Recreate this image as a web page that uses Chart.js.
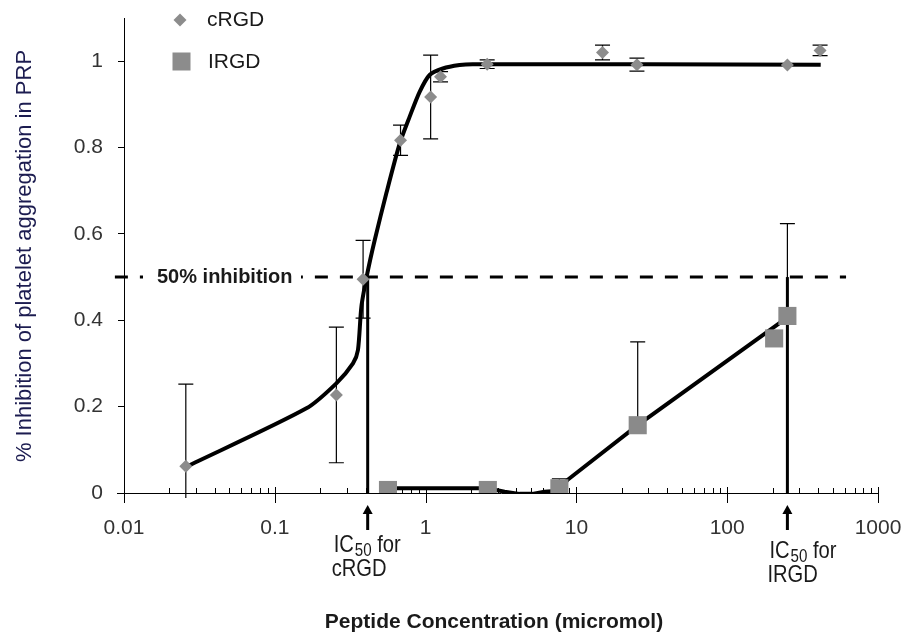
<!DOCTYPE html>
<html>
<head>
<meta charset="utf-8">
<script src="https://cdn.jsdelivr.net/npm/chart.js@4.4.0/dist/chart.umd.min.js"></script>
<style>
  html, body { margin: 0; padding: 0; background: #fff; }
</style>
</head>
<body>
<canvas id="myChart" width="912" height="639"></canvas>
<script>
const crgdX   = [0.0257, 0.256, 0.385, 0.682, 1.08, 1.256, 2.56, 14.9, 25.2, 250.6, 413];
const crgdY   = [0.062, 0.227, 0.495, 0.817, 0.917, 0.964, 0.993, 1.020, 0.992, 0.991, 1.025];
const crgdErr = [0.19, 0.157, 0.09, 0.035, 0.097, 0.012, 0.01, 0.017, 0.015, 0, 0.012];

const irgdX   = [0.563, 2.586, 7.71, 25.5, 204.8, 250.7];
const irgdY   = [0.007, 0.007, 0.011, 0.157, 0.358, 0.410];
const irgdErr = [0, 0, 0.022, 0.193, 0, 0.214];

// fitted curves
const crgdFitX = [0.026, 0.162, 0.256, 0.330, 0.356, 0.375, 0.411, 0.460, 0.549, 0.673, 0.783, 0.913, 1.063, 1.302, 1.68, 2.05, 417];
const crgdFitY = [0.061, 0.196, 0.254, 0.300, 0.331, 0.431, 0.509, 0.586, 0.694, 0.809, 0.871, 0.929, 0.968, 0.983, 0.991, 0.993, 0.992];
const irgdFitX = [0.563, 2.58, 3.34, 4.19, 5.11, 6.14, 7.71, 8.71, 25.5, 221, 242];
const irgdFitY = [0.011, 0.011, 0.003, -0.002, -0.002, 0.003, 0.005, 0.030, 0.157, 0.393, 0.403];

const ic50X = [0.413, 250.7];
const ic50Names = ['cRGD', 'IRGD'];
const halfLineX = [0.0087, 614];
const halfLineY = 0.5;

const xMajor = [0.01, 0.1, 1, 10, 100, 1000];
const xMinor = [2, 3, 4, 5, 6, 7, 8, 9];
const yTicks = [0, 0.2, 0.4, 0.6, 0.8, 1];

const FONT = "'Liberation Sans', Arial, sans-serif";
Chart.defaults.font.family = FONT;

const toPts = (xs, ys) => xs.map((x, i) => ({ x: x, y: ys[i] }));

const xAll = [];
xMajor.forEach((m, i) => {
  xAll.push(m);
  if (i < xMajor.length - 1) xMinor.forEach(k => xAll.push(+(m * k).toPrecision(3)));
});

const drawErrBars = (ctx, xs, ys, errs, sc, plusOnly) => {
  const xs_ = sc.x, ys_ = sc.y;
  ctx.save();
  ctx.strokeStyle = '#000';
  ctx.lineWidth = 1.2;
  xs.forEach((x, i) => {
    if (!errs[i]) return;
    const px = xs_.getPixelForValue(x);
    const top = ys_.getPixelForValue(ys[i] + errs[i]);
    let bot = plusOnly ? ys_.getPixelForValue(ys[i]) : ys_.getPixelForValue(ys[i] - errs[i]);
    const clipped = bot > ys_.bottom + 5;
    if (clipped) bot = ys_.bottom + 5;
    ctx.beginPath();
    ctx.moveTo(px, top); ctx.lineTo(px, bot);
    ctx.moveTo(px - 7.5, top); ctx.lineTo(px + 7.5, top);
    if (!plusOnly && !clipped) { ctx.moveTo(px - 7.5, bot); ctx.lineTo(px + 7.5, bot); }
    ctx.stroke();
  });
  ctx.restore();
};

const narrow = (ctx, str, x, y, font, sx) => {
  ctx.save();
  ctx.font = font;
  ctx.translate(x, y);
  ctx.scale(sx, 1);
  ctx.fillText(str, 0, 0);
  const w = ctx.measureText(str).width * sx;
  ctx.restore();
  return w;
};

const extras = {
  id: 'extras',
  beforeDatasetsDraw(chart) {
    const ctx = chart.ctx, xs = chart.scales.x, ys = chart.scales.y;
    const y0 = ys.bottom;
    ctx.save();
    ctx.strokeStyle = '#000';
    ctx.lineWidth = 1;
    ctx.beginPath();
    ctx.moveTo(xs.left - 7, y0 + 0.5); ctx.lineTo(xs.left, y0 + 0.5);
    xAll.forEach(v => {
      const px = Math.round(xs.getPixelForValue(v)) + 0.5;
      if (xMajor.includes(v)) { ctx.moveTo(px, y0 - 6); ctx.lineTo(px, y0 + 10); }
      else { ctx.moveTo(px, y0 - 5); ctx.lineTo(px, y0); }
    });
    ctx.stroke();
    ctx.restore();
    drawErrBars(ctx, crgdX, crgdY, crgdErr, chart.scales, false);
    drawErrBars(ctx, irgdX, irgdY, irgdErr, chart.scales, true);
  },
  afterDatasetsDraw(chart) {
    const ctx = chart.ctx, xs = chart.scales.x, ys = chart.scales.y;
    const y0 = ys.bottom;
    ctx.save();
    // 50% inhibition label
    const hy = ys.getPixelForValue(halfLineY);
    ctx.fillStyle = '#fff';
    ctx.fillRect(143, hy - 10, 158, 20);
    ctx.fillStyle = '#1a1a1a';
    ctx.font = 'bold 20px ' + FONT;
    ctx.textBaseline = 'middle';
    ctx.textAlign = 'left';
    ctx.fillText('50% inhibition', 157, hy);

    // IC50 arrows + labels
    ic50X.forEach((v, i) => {
      const px = xs.getPixelForValue(v);
      ctx.fillStyle = '#000';
      ctx.beginPath();
      ctx.moveTo(px, y0 + 12);
      ctx.lineTo(px - 5, y0 + 21);
      ctx.lineTo(px + 5, y0 + 21);
      ctx.closePath();
      ctx.fill();
      ctx.fillRect(px - 1.5, y0 + 20, 3, 17);
      const lx = i === 0 ? px - 34 : px - 18;
      const by = i === 0 ? y0 + 59 : y0 + 65;
      ctx.fillStyle = '#1a1a1a';
      ctx.textBaseline = 'alphabetic';
      let w = narrow(ctx, 'IC', lx, by, '24px ' + FONT, 0.84);
      w += narrow(ctx, '50', lx + w + 1, by + 4, '18px ' + FONT, 0.84) + 1;
      narrow(ctx, ' for', lx + w, by, '24px ' + FONT, 0.84);
      narrow(ctx, ic50Names[i], lx - 2, by + 24, '24px ' + FONT, 0.84);
    });

    // legend
    ctx.fillStyle = '#8c8c8c';
    ctx.beginPath();
    ctx.moveTo(180, 13.5); ctx.lineTo(186.5, 20); ctx.lineTo(180, 26.5); ctx.lineTo(173.5, 20);
    ctx.closePath(); ctx.fill();
    ctx.fillRect(172.5, 52.5, 18, 18);
    ctx.fillStyle = '#1a1a1a';
    ctx.font = '21px ' + FONT;
    ctx.textBaseline = 'middle';
    ctx.fillText('cRGD', 207, 20);
    ctx.fillText('IRGD', 208, 62);

    // axis titles
    ctx.font = 'bold 21px ' + FONT;
    ctx.textAlign = 'center';
    ctx.textBaseline = 'alphabetic';
    ctx.fillText('Peptide Concentration (micromol)', 494, 628);
    ctx.save();
    ctx.translate(25, 256);
    ctx.rotate(-Math.PI / 2);
    ctx.fillStyle = '#1c1c50';
    ctx.font = '22px ' + FONT;
    ctx.textBaseline = 'middle';
    ctx.fillText('% Inhibition of platelet aggregation in PRP', 0, 0);
    ctx.restore();
    ctx.restore();
  }
};

const lineSet = (data, extra) => Object.assign({
  data: data, showLine: true, borderColor: '#000', borderWidth: 4,
  pointRadius: 0, pointHoverRadius: 0, fill: false
}, extra);

const noPad = (scale) => {
  scale.paddingTop = 0; scale.paddingBottom = 0;
  scale.paddingLeft = 0; scale.paddingRight = 0;
};

const ctx = document.getElementById('myChart').getContext('2d');
const myChart = new Chart(ctx, {
  type: 'scatter',
  data: {
    datasets: [
      {
        label: 'cRGD', data: toPts(crgdX, crgdY), pointStyle: 'rectRot', pointRadius: 6.5,
        backgroundColor: '#8c8c8c', borderColor: '#8c8c8c', borderWidth: 0
      },
      {
        label: 'IRGD', data: toPts(irgdX, irgdY), pointStyle: 'rect', pointRadius: 12.8,
        backgroundColor: '#8a8a8a', borderColor: '#8a8a8a', borderWidth: 0
      },
      lineSet(toPts(crgdFitX, crgdFitY), { tension: 0.25 }),
      lineSet(toPts(irgdFitX, irgdFitY), { tension: 0 }),
      lineSet([{ x: ic50X[0], y: 0 }, { x: ic50X[0], y: halfLineY }], { borderWidth: 3 }),
      lineSet([{ x: ic50X[1], y: 0 }, { x: ic50X[1], y: halfLineY }], { borderWidth: 3 }),
      lineSet(halfLineX.map(x => ({ x: x, y: halfLineY })), { borderWidth: 3, borderDash: [13, 12], clip: false })
    ]
  },
  options: {
    responsive: false,
    animation: false,
    devicePixelRatio: 1,
    layout: { padding: { top: 18, right: 34, left: 0, bottom: 0 } },
    plugins: { legend: { display: false }, tooltip: { enabled: false } },
    scales: {
      x: {
        type: 'logarithmic', min: 0.01, max: 1000,
        afterBuildTicks: (scale) => { scale.ticks = xAll.map(v => ({ value: v })); },
        afterFit: (scale) => { scale.height = 146; noPad(scale); },
        grid: { display: false, drawTicks: false },
        border: { display: true, color: '#000', width: 1 },
        ticks: {
          autoSkip: false, maxRotation: 0, padding: 23, color: '#333',
          font: { size: 21 },
          callback: (v) => xMajor.includes(v) ? String(v) : ''
        }
      },
      y: {
        min: 0, max: 1.1,
        afterBuildTicks: (scale) => { scale.ticks = yTicks.map(v => ({ value: v })); },
        afterFit: (scale) => { scale.width = 124; noPad(scale); },
        grid: { drawOnChartArea: false, drawTicks: true, tickLength: 6, color: '#000' },
        border: { display: true, color: '#000', width: 1 },
        ticks: { padding: 15, color: '#333', font: { size: 21 }, callback: (v) => String(v) }
      }
    }
  },
  plugins: [extras]
});
</script>
</body>
</html>
